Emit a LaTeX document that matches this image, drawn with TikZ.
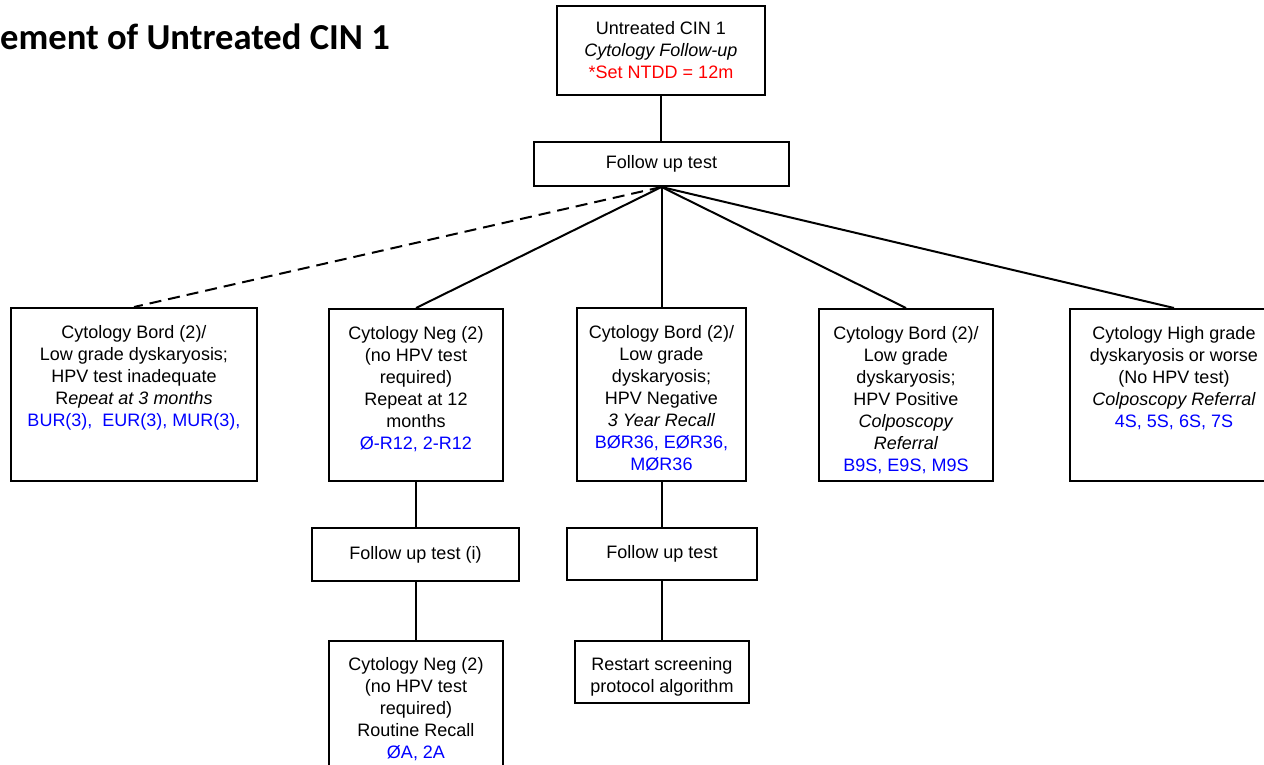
\documentclass[tikz,border=0pt]{standalone}
\usepackage{fontspec}
\setmainfont{Liberation Sans}
\newfontfamily\titlefont{Carlito}
\definecolor{codeblue}{RGB}{0,0,255}
\definecolor{notered}{RGB}{255,0,0}
\newcommand{\bxt}[4]{\parbox[c][#2][t]{#1}{\centering\rule{0pt}{#3}#4\par}}
\newcommand{\bxc}[3]{\parbox[c][#2][c]{#1}{\centering #3\par}}
\tikzset{
  box/.style={draw, line width=2pt, inner sep=0pt, anchor=north west,
    font=\fontsize{18}{22}\selectfont},
  conn/.style={line width=2pt},
  dconn/.style={line width=2pt, dash pattern=on 12pt off 7pt}
}
\begin{document}
\begin{tikzpicture}[x=1pt,y=-1pt]
\useasboundingbox (0,0) rectangle (1264,764);
\fill[white] (0,0) rectangle (1264,764);
\clip (0,0) rectangle (1264,764);

\node[anchor=base west, inner sep=0pt, font=\titlefont\bfseries\fontsize{36.6}{40}\selectfont] (title) at (0,49) {ement of Untreated CIN 1};

\node[box] (top) at (556,5) {\bxt{208pt}{89pt}{28.5pt}{Untreated CIN 1\\\textit{Cytology Follow-up}\\{\color{notered}*Set NTDD = 12m}}};
\node[box] (fu) at (533,141) {\bxc{255pt}{44pt}{Follow up test}};

\node[box] (b1) at (10,307) {\bxt{246pt}{173pt}{30pt}{Cytology Bord (2)/\\Low grade dyskaryosis;\\HPV test inadequate\\R\textit{epeat at 3 months}\\{\color{codeblue}BUR(3),\ \ EUR(3), MUR(3),}}};
\node[box] (b2) at (328,308) {\bxt{174pt}{172pt}{30pt}{Cytology Neg (2)\\(no HPV test\\required)\\Repeat at 12\\months\\{\color{codeblue}Ø-R12, 2-R12}}};
\node[box] (b3) at (576,307) {\bxt{169pt}{173pt}{30pt}{Cytology Bord (2)/\\Low grade\\dyskaryosis;\\HPV Negative\\\textit{3 Year Recall}\\{\color{codeblue}BØR36, EØR36,}\\{\color{codeblue}MØR36}}};
\node[box] (b4) at (818,308) {\bxt{174pt}{172pt}{30pt}{Cytology Bord (2)/\\Low grade\\dyskaryosis;\\HPV Positive\\\textit{Colposcopy}\\\textit{Referral}\\{\color{codeblue}B9S, E9S, M9S}}};
\node[box] (b5) at (1069,308) {\bxt{208pt}{172pt}{30pt}{Cytology High grade\\dyskaryosis or worse\\(No HPV test)\\\textit{Colposcopy Referral}\\{\color{codeblue}4S, 5S, 6S, 7S}}};

\node[box] (fu2) at (311,527) {\bxc{207pt}{53pt}{Follow up test (i)}};
\node[box] (fu3) at (566,527) {\bxc{190pt}{52pt}{Follow up test}};

\node[box] (b6) at (328,640) {\bxt{174pt}{140pt}{29.5pt}{Cytology Neg (2)\\(no HPV test\\required)\\Routine Recall\\{\color{codeblue}ØA, 2A}}};
\node[box] (rs) at (574,640) {\bxt{174pt}{62pt}{29.5pt}{Restart screening\\protocol algorithm}};

\draw[conn] (top.south) -- (top.south |- fu.north);
\draw[dconn] (fu.south) -- (b1.north);
\draw[conn] (fu.south) -- (b2.north);
\draw[conn] (fu.south) -- (fu.south |- b3.north);
\draw[conn] (fu.south) -- (b4.north);
\draw[conn] (fu.south) -- (b5.north);
\draw[conn] (b2.south) -- (b2.south |- fu2.north);
\draw[conn] (b2.south |- fu2.south) -- (b2.south |- b6.north);
\draw[conn] (b3.south) -- (b3.south |- fu3.north);
\draw[conn] (b3.south |- fu3.south) -- (b3.south |- rs.north);
\end{tikzpicture}
\end{document}
